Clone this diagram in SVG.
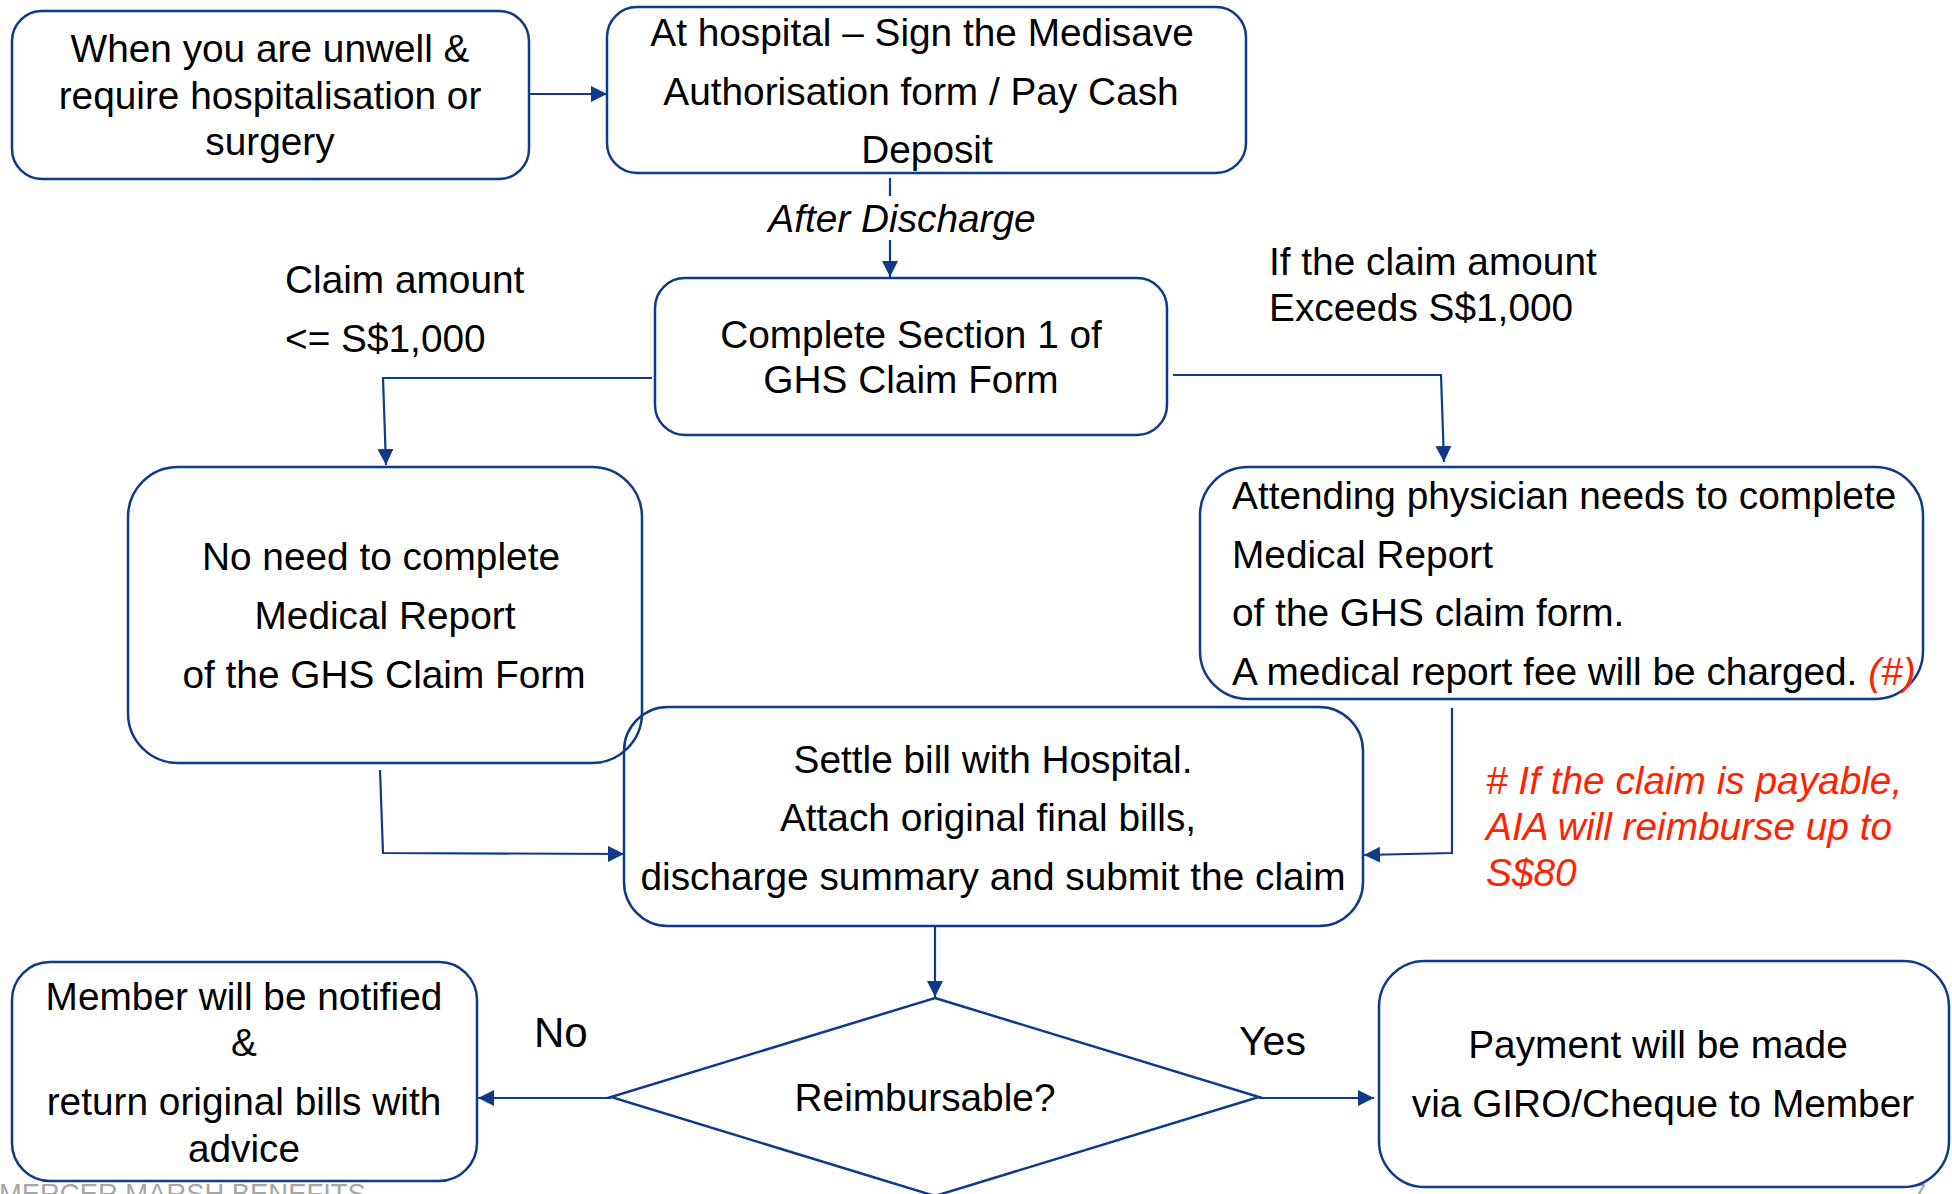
<svg xmlns="http://www.w3.org/2000/svg" width="1952" height="1194" viewBox="0 0 1952 1194">
  <defs>
    <marker id="arrow" markerUnits="userSpaceOnUse" markerWidth="17" markerHeight="17" refX="16" refY="8" orient="auto">
      <path d="M0,0 L16,8 L0,16 Z" fill="#0F3A8A"/>
    </marker>
    <style>
      .box { fill: none; stroke: #0F3A8A; stroke-width: 2.5; }
      .conn { fill: none; stroke: #0F3A8A; stroke-width: 2.2; }
      .t { font-family: "Liberation Sans", Arial, sans-serif; font-size: 38.8px; fill: #000; }
      .c { text-anchor: middle; }
      .it { font-style: italic; }
      .red { fill: #FF2200; font-style: italic; }
      .foot { font-family: "Liberation Sans", Arial, sans-serif; font-size: 27.4px; fill: #A6A6A6; }
    </style>
  </defs>

  <rect width="1952" height="1194" fill="#fff"/>

  <!-- footer and page number -->
  <text class="foot" x="-1" y="1203">MERCER MARSH BENEFITS</text>
  <text class="foot" x="1911" y="1203">7</text>

  <!-- connectors -->
  <g id="connectors">
    <path class="conn" d="M529,94 L607,94" marker-end="url(#arrow)"/>
    <path class="conn" d="M890,178 L890,196"/>
    <path class="conn" d="M890,240 L890,277" marker-end="url(#arrow)"/>
    <path class="conn" d="M652,378 L383,378 L386,465" marker-end="url(#arrow)"/>
    <path class="conn" d="M1173,375 L1441,375 L1444,462" marker-end="url(#arrow)"/>
    <path class="conn" d="M380,770 L383,853 L624,854" marker-end="url(#arrow)"/>
    <path class="conn" d="M1452,708 L1452,853 L1364,855" marker-end="url(#arrow)"/>
    <path class="conn" d="M935,926 L935,997" marker-end="url(#arrow)"/>
    <path class="conn" d="M611,1098 L478,1098" marker-end="url(#arrow)"/>
    <path class="conn" d="M1259,1098 L1374,1098" marker-end="url(#arrow)"/>
  </g>

  <!-- edge labels -->
  <g id="labels">
    <text class="t c it" x="902" y="232">After Discharge</text>
    <text class="t" x="285" y="293">Claim amount</text>
    <text class="t" x="285" y="352">&lt;= S$1,000</text>
    <text class="t" x="1269" y="275">If the claim amount</text>
    <text class="t" x="1269" y="321">Exceeds S$1,000</text>
    <text class="t" x="534" y="1047" style="font-size:42px">No</text>
    <text class="t" x="1239" y="1055" style="font-size:41px">Yes</text>
    <text class="t red" x="1486" y="794">
      <tspan x="1486" y="794"># If the claim is payable,</tspan>
      <tspan x="1486" y="840">AIA will reimburse up to</tspan>
      <tspan x="1486" y="886">S$80</tspan>
    </text>
  </g>

  <!-- nodes -->
  <g id="node-unwell">
    <rect class="box" x="12" y="11" width="517" height="168" rx="30"/>
    <text class="t c" x="270" y="62">When you are unwell &amp;</text>
    <text class="t c" x="270" y="109">require hospitalisation or</text>
    <text class="t c" x="270" y="155">surgery</text>
  </g>

  <g id="node-hospital">
    <rect class="box" x="607" y="7" width="639" height="166" rx="30"/>
    <text class="t c" x="922" y="46">At hospital – Sign the Medisave</text>
    <text class="t c" x="921" y="105">Authorisation form / Pay Cash</text>
    <text class="t c" x="927" y="163">Deposit</text>
  </g>

  <g id="node-section1">
    <rect class="box" x="655" y="278" width="512" height="157" rx="30"/>
    <text class="t c" x="911" y="348">Complete Section 1 of</text>
    <text class="t c" x="911" y="393">GHS Claim Form</text>
  </g>

  <g id="node-no-report">
    <rect class="box" x="128" y="467" width="514" height="296" rx="50"/>
    <text class="t c" x="381" y="570">No need to complete</text>
    <text class="t c" x="385" y="629">Medical Report</text>
    <text class="t c" x="384" y="688">of the GHS Claim Form</text>
  </g>

  <g id="node-physician">
    <rect class="box" x="1200" y="467" width="723" height="232" rx="48"/>
    <text class="t" x="1232" y="509">Attending physician needs to complete</text>
    <text class="t" x="1232" y="568">Medical Report</text>
    <text class="t" x="1232" y="626">of the GHS claim form.</text>
    <text class="t" x="1232" y="685">A medical report fee will be charged. <tspan class="red">(#)</tspan></text>
  </g>

  <g id="node-settle">
    <rect class="box" x="624" y="707" width="739" height="219" rx="44"/>
    <text class="t c" x="993" y="773">Settle bill with Hospital.</text>
    <text class="t c" x="988" y="831">Attach original final bills,</text>
    <text class="t c" x="993" y="890">discharge summary and submit the claim</text>
  </g>

  <g id="node-reimbursable">
    <polygon class="box" points="935,998 1259,1097 935,1196 611,1097"/>
    <text class="t c" x="925" y="1111">Reimbursable?</text>
  </g>

  <g id="node-notified">
    <rect class="box" x="12" y="962" width="465" height="219" rx="38"/>
    <text class="t c" x="244" y="1010">Member will be notified</text>
    <text class="t c" x="244" y="1056">&amp;</text>
    <text class="t c" x="244" y="1115">return original bills with</text>
    <text class="t c" x="244" y="1162">advice</text>
  </g>

  <g id="node-payment">
    <rect class="box" x="1379" y="961" width="570" height="226" rx="46" style="fill:#fff"/>
    <text class="t c" x="1658" y="1058">Payment will be made</text>
    <text class="t c" x="1663" y="1117">via GIRO/Cheque to Member</text>
  </g>
</svg>
